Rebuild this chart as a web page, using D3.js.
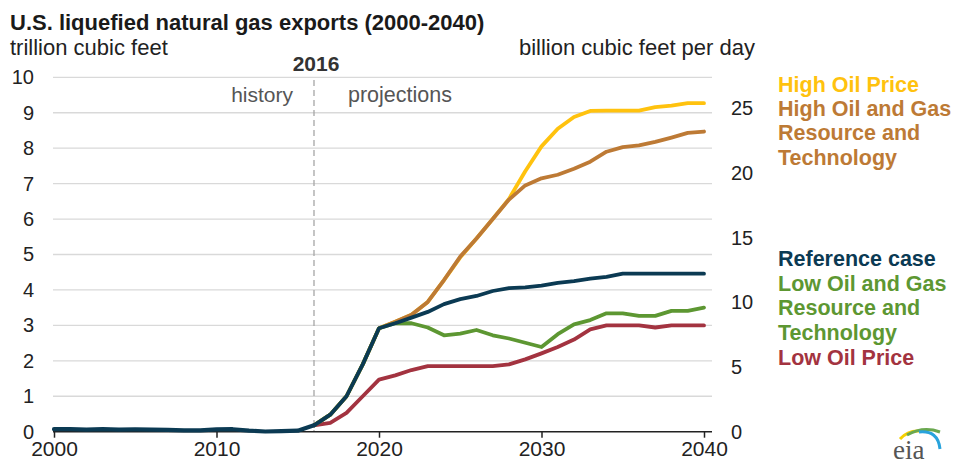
<!DOCTYPE html>
<html>
<head>
<meta charset="utf-8">
<script src="https://cdn.jsdelivr.net/npm/d3@7"></script>
<style>
  html, body { margin: 0; padding: 0; background: #fff; }
  svg { display: block; font-family: "Liberation Sans", Arial, sans-serif; }
</style>
</head>
<body>
<svg id="chart" width="956" height="466"></svg>
<script>
// ---------------- data ----------------
const histYears = [2000,2001,2002,2003,2004,2005,2006,2007,2008,2009,2010,2011,2012,2013,2014,2015,2016];
const history   = [0.07,0.07,0.06,0.07,0.06,0.065,0.06,0.05,0.04,0.035,0.065,0.07,0.03,0.005,0.015,0.03,0.18];

const projYears = [2016,2017,2018,2019,2020,2021,2022,2023,2024,2025,2026,2027,2028,2029,2030,2031,2032,2033,2034,2035,2036,2037,2038,2039,2040];
const highOilPrice   = [0.18,0.48,1.0,1.9,2.92,3.1,3.3,3.66,4.28,4.92,5.45,6.0,6.57,7.35,8.05,8.55,8.88,9.05,9.06,9.06,9.06,9.16,9.2,9.27,9.27];
const highOilGas     = [0.18,0.48,1.0,1.9,2.92,3.1,3.3,3.66,4.28,4.94,5.45,6.0,6.55,6.95,7.15,7.25,7.42,7.62,7.9,8.03,8.08,8.18,8.3,8.43,8.47];
const referenceCase  = [0.18,0.48,1.0,1.9,2.92,3.06,3.22,3.38,3.6,3.74,3.83,3.97,4.05,4.07,4.12,4.2,4.25,4.32,4.37,4.46,4.46,4.46,4.46,4.46,4.46];
const lowOilGas      = [0.18,0.48,1.0,1.9,2.92,3.06,3.06,2.94,2.72,2.77,2.87,2.72,2.63,2.51,2.39,2.75,3.03,3.15,3.34,3.34,3.27,3.27,3.41,3.41,3.5];
const lowOilPrice    = [0.18,0.25,0.53,1.0,1.47,1.59,1.74,1.85,1.85,1.85,1.85,1.85,1.9,2.04,2.21,2.39,2.6,2.89,3.0,3.0,3.0,2.94,3.0,3.0,3.0];

const leftTicks  = [0,1,2,3,4,5,6,7,8,9,10];
const rightTicks = [0,5,10,15,20,25];
const xTicks     = [2000,2010,2020,2030,2040];

const seriesNames  = ["High Oil Price","High Oil and Gas Resource and Technology","Reference case","Low Oil and Gas Resource and Technology","Low Oil Price"];
const seriesColors = ["#ffc20e","#bd7a35","#0b3a53","#5d9732","#a33340"];

// ---------------- layout ----------------
const svg = d3.select("#chart");
const x = d3.scaleLinear().domain([2000, 2040]).range([54, 704]);
const y = d3.scaleLinear().domain([0, 10]).range([431.7, 77.3]);
const yR = d3.scaleLinear().domain([0, 10 * 1000 / 365]).range([431.7, 77.3]);
const gridRight = 712;

// title & units
svg.append("text").attr("x", 10).attr("y", 30)
  .attr("font-size", 22).attr("font-weight", "bold").attr("fill", "#1a1a1a")
  .text("U.S. liquefied natural gas exports (2000-2040)");
svg.append("text").attr("x", 10).attr("y", 55)
  .attr("font-size", 22).attr("fill", "#222")
  .text("trillion cubic feet");
svg.append("text").attr("x", 755).attr("y", 55).attr("text-anchor", "end")
  .attr("font-size", 22).attr("fill", "#222")
  .text("billion cubic feet per day");

// gridlines
svg.append("g").selectAll("line").data(leftTicks.filter(d => d > 0)).join("line")
  .attr("x1", x(2000) - 1).attr("x2", gridRight)
  .attr("y1", d => y(d)).attr("y2", d => y(d))
  .attr("stroke", "#d9d9d9").attr("stroke-width", 1.3);

// left axis labels
const leftAxis = d3.axisLeft(y).tickValues(leftTicks).tickSize(0).tickPadding(0);
const gl = svg.append("g").attr("transform", "translate(34,0)").call(leftAxis);
gl.select(".domain").remove();
gl.selectAll("text").attr("font-size", 20).attr("fill", "#222")
  .attr("font-family", "Liberation Sans, Arial, sans-serif");

// right axis labels
const rightAxis = d3.axisRight(yR).tickValues(rightTicks).tickSize(0).tickPadding(0);
const gr = svg.append("g").attr("transform", "translate(731,0)").call(rightAxis);
gr.select(".domain").remove();
gr.selectAll("text").attr("font-size", 20).attr("fill", "#222")
  .attr("font-family", "Liberation Sans, Arial, sans-serif");

// 2016 divider
svg.append("line").attr("x1", x(2016)).attr("x2", x(2016))
  .attr("y1", 80).attr("y2", y(0))
  .attr("stroke", "#a6a6a6").attr("stroke-width", 1.3).attr("stroke-dasharray", "6,4");
svg.append("text").attr("x", x(2016) + 2).attr("y", 71).attr("text-anchor", "middle")
  .attr("font-size", 21).attr("font-weight", "bold").attr("fill", "#333").text("2016");
svg.append("text").attr("x", x(2016) - 21).attr("y", 102).attr("text-anchor", "end")
  .attr("font-size", 21).attr("fill", "#555").text("history");
svg.append("text").attr("x", x(2016) + 34).attr("y", 102)
  .attr("font-size", 21.5).attr("fill", "#555").text("projections");

// x axis
const xAxis = d3.axisBottom(x).tickValues(xTicks).tickFormat(d3.format("d")).tickSize(6).tickPadding(3).tickSizeOuter(0);
const gx = svg.append("g").attr("transform", `translate(0,${y(0)})`).call(xAxis);
gx.select(".domain").remove();
gx.selectAll(".tick line").attr("stroke", "#222").attr("stroke-width", 1.5);
gx.selectAll("text").attr("font-size", 21).attr("fill", "#222")
  .attr("font-family", "Liberation Sans, Arial, sans-serif");
svg.append("line").attr("x1", x(2000) - 1).attr("x2", gridRight)
  .attr("y1", y(0)).attr("y2", y(0)).attr("stroke", "#222").attr("stroke-width", 1.5);

// lines
const line = d3.line().x(d => x(d[0])).y(d => y(d[1])).curve(d3.curveLinear);
const projSeries = [highOilPrice, highOilGas, referenceCase, lowOilGas, lowOilPrice];
const drawOrder = [0, 1, 4, 3, 2];
drawOrder.forEach(i => {
  const pts = projYears.map((yr, j) => [yr, projSeries[i][j]]);
  svg.append("path").datum(pts).attr("d", line)
    .attr("fill", "none").attr("stroke", seriesColors[i])
    .attr("stroke-width", 3.8).attr("stroke-linejoin", "round").attr("stroke-linecap", "round");
});
svg.append("path").datum(histYears.map((yr, j) => [yr, history[j]])).attr("d", line)
  .attr("fill", "none").attr("stroke", seriesColors[2])
  .attr("stroke-width", 4.2).attr("stroke-linejoin", "round").attr("stroke-linecap", "round");

// legend
const legendLines = [
  {t: "High Oil Price", c: 0, y: 92},
  {t: "High Oil and Gas", c: 1, y: 115.5},
  {t: "Resource and", c: 1, y: 140},
  {t: "Technology", c: 1, y: 164.5},
  {t: "Reference case", c: 2, y: 266},
  {t: "Low Oil and Gas", c: 3, y: 290.5},
  {t: "Resource and", c: 3, y: 315},
  {t: "Technology", c: 3, y: 339.5},
  {t: "Low Oil Price", c: 4, y: 365}
];
svg.append("g").selectAll("text").data(legendLines).join("text")
  .attr("x", 778).attr("y", d => d.y)
  .attr("font-size", 21.5).attr("font-weight", "bold")
  .attr("fill", d => seriesColors[d.c]).text(d => d.t);

// eia logo
const logo = svg.append("g").attr("transform", "translate(893,459)");
logo.append("path").attr("d", "M7,-20 Q15,-29 27,-28").attr("fill", "none").attr("stroke", "#f5d000").attr("stroke-width", 3);
logo.append("path").attr("d", "M14,-24 Q30,-33 47,-27").attr("fill", "none").attr("stroke", "#6aa84f").attr("stroke-width", 3);
logo.append("path").attr("d", "M26,-27 Q45,-29 47,-10").attr("fill", "none").attr("stroke", "#29a3dc").attr("stroke-width", 3);
logo.append("text").attr("x", 0).attr("y", 0)
  .attr("font-family", "Liberation Serif, Times New Roman, serif")
  .attr("font-size", 27).attr("fill", "#555").text("eia");
</script>
</body>
</html>
